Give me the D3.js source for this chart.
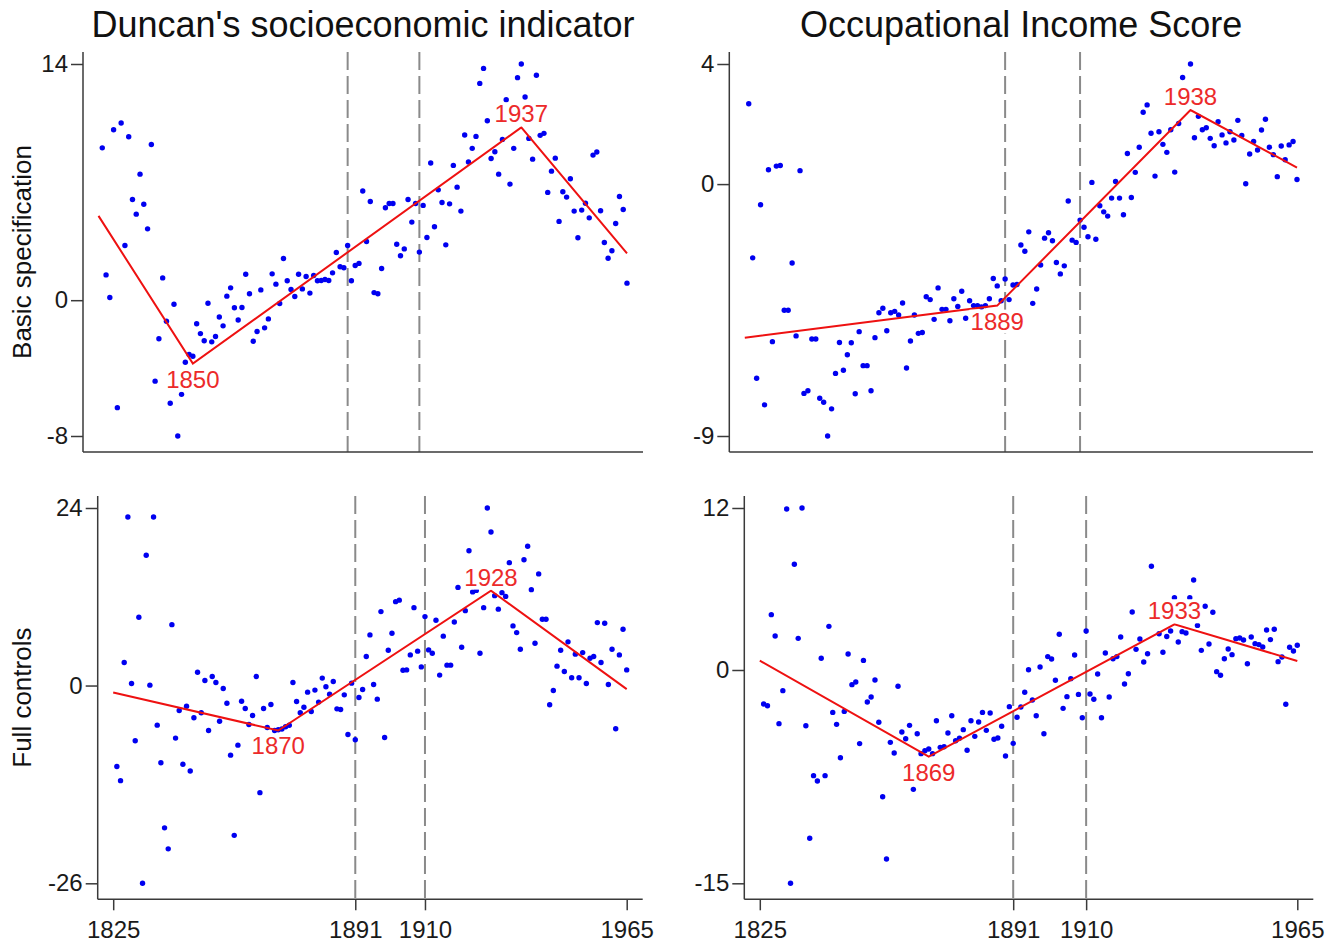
<!DOCTYPE html>
<html>
<head>
<meta charset="utf-8">
<script src="https://cdn.jsdelivr.net/npm/d3@7"></script>
<style>
  body { margin: 0; background: #fff; }
  svg text { font-family: "Liberation Sans", Arial, sans-serif; }
</style>
</head>
<body>
<svg id="chart" width="1341" height="948"></svg>
<script>
// one point per year, 1826..1965
var years = d3.range(1826, 1966);

var duncanBasic = [
  9.03, 1.50, 0.16, 10.1, -6.37, 10.5, 3.24, 9.69, 5.97, 5.10,
  7.47, 5.69, 4.23, 9.23, -4.80, -2.29, 1.32, -1.25, -6.11, -0.24,
  -8.05, -5.58, -3.68, -3.22, -3.32, -1.40, -1.98, -2.4, -0.18, -2.47,
  -2.15, -1.0, -1.52, 0.24, 0.73, -0.45, -1.17, -0.43, 1.54, 0.38,
  -2.43, -1.86, 0.61, -1.64, -1.11, 1.56, 0.95, -0.2, 2.47, 1.15,
  0.63, 0.22, 1.54, 0.67, 1.40, 0.42, 1.46, 1.15, 1.17, 1.23,
  1.17, 1.62, 2.83, 1.98, 1.92, 3.24, 1.15, 2.06, 2.18, 6.47,
  3.48, 5.85, 0.45, 0.38, 1.88, 5.48, 5.73, 5.73, 3.32, 2.63,
  3.04, 5.97, 4.63, 5.73, 2.85, 5.62, 3.72, 8.13, 4.35, 6.54,
  5.79, 3.28, 5.71, 7.99, 6.70, 5.28, 9.79, 8.19, 9.00, 9.71,
  12.85, 13.74, 10.64, 8.40, 8.80, 7.47, 9.53, 11.88, 6.88, 9.00,
  13.19, 14.0, 12.04, 9.59, 8.36, 13.33, 9.77, 9.89, 6.39, 7.65,
  8.42, 4.67, 6.43, 6.11, 7.20, 5.28, 3.70, 5.34, 5.75, 4.88,
  8.60, 8.78, 5.30, 3.42, 2.49, 2.93, 4.55, 6.15, 5.38, 1.01
];

var oisBasic = [
  2.81, -2.58, -6.79, -0.72, -7.72, 0.50, -5.51, 0.63, 0.65, -4.41,
  -4.41, -2.76, -5.31, 0.47, -7.32, -7.23, -5.42, -5.42, -7.49, -7.63,
  -8.81, -7.86, -6.62, -5.54, -6.51, -5.97, -5.55, -7.33, -5.16, -6.35,
  -6.35, -7.23, -5.37, -4.50, -4.34, -5.13, -4.50, -4.45, -4.58, -4.16,
  -6.43, -5.49, -4.58, -5.22, -5.19, -3.94, -4.04, -4.73, -3.63, -4.38,
  -4.38, -4.78, -4.01, -4.28, -3.75, -4.69, -4.08, -4.25, -4.25, -4.3,
  -4.25, -4.01, -3.30, -3.56, -4.08, -3.32, -4.04, -3.53, -3.51, -2.13,
  -2.35, -1.67, -4.17, -3.67, -2.83, -1.89, -1.70, -1.98, -2.74, -3.14,
  -2.86, -0.59, -1.96, -2.04, -1.26, -1.51, -1.84, 0.06, -1.93, -0.76,
  -0.97, -1.12, -0.49, 0.09, -0.49, -1.07, 1.07, -0.47, 0.41, 1.29,
  2.51, 2.77, 1.78, 0.28, 1.83, 1.39, 1.11, 1.9, 0.42, 2.12,
  3.73, 2.9, 4.20, 1.62, 2.37, 1.9, 1.97, 1.6, 1.34, 2.18,
  1.72, 1.44, 1.83, 1.54, 2.23, 1.70, 0.01, 1.05, 1.49, 1.19,
  1.89, 2.27, 1.29, 1.03, 0.26, 1.33, 0.85, 1.37, 1.49, 0.16
];

var duncanFull = [
  -10.8, -12.7, 3.07, 22.5, 0.27, -7.37, 9.11, -26.4, 17.4, 0.05,
  22.5, -5.29, -10.3, -19.0, -21.8, 8.13, -7.02, -3.33, -10.5, -2.76,
  -11.4, -4.31, 1.78, -3.64, 0.67, -6.0, 1.2, 0.4, -4.76, -0.4,
  -2.36, -9.29, -20.0, -7.96, -2.09, -3.07, -5.2, -4.0, 1.2, -14.3,
  -3.07, -5.6, -2.53, -6.0, -5.9, -5.8, -5.5, -5.3, 0.4, -2.13,
  -3.64, -2.89, -0.88, -3.47, -0.61, -2.21, 0.99, -0.17, -1.15, 0.53,
  -3.11, -3.2, -1.24, -6.53, 0.32, -7.24, -1.6, -0.53, 3.87, 6.76,
  0.13, -1.82, 9.87, -6.93, 4.71, 6.98, 11.2, 11.4, 2.05, 2.09,
  4.09, 10.4, 4.59, 2.49, 9.2, 4.76, 4.32, 8.72, 1.39, 6.59,
  2.72, 2.72, 8.49, 13.1, 5.12, 10.0, 18.0, 12.5, 12.7, 4.32,
  10.4, 23.7, 20.5, 12.0, 10.2, 12.4, 11.9, 16.4, 7.96, 7.07,
  4.85, 16.8, 18.6, 12.8, 5.65, 14.9, 8.85, 8.85, -2.57, -0.67,
  2.59, 4.72, 1.87, 5.83, 1.03, 4.19, 1.03, 4.4, 0.27, 3.65,
  3.87, 8.4, 3.07, 8.32, 0.13, 4.85, -5.77, 4.09, 7.52, 2.09
];

var oisFull = [
  -2.44, -2.56, 3.97, 2.44, -3.85, -1.48, 11.55, -15.3, 7.58, 2.27,
  11.62, -4.0, -12.07, -7.58, -7.96, 0.84, -7.58, 3.13, -3.04, -3.9,
  -6.29, -2.97, 1.15, -1.05, -0.86, -5.28, 0.69, -2.30, -1.94, -0.72,
  -3.75, -9.09, -13.56, -5.19, -5.95, -1.17, -4.45, -4.93, -3.97, -8.56,
  -4.57, -6.0, -5.79, -5.67, -6.0, -3.64, -5.55, -5.5, -4.52, -3.28,
  -5.07, -4.9, -4.28, -5.76, -3.64, -4.76, -3.73, -3.04, -4.33, -3.08,
  -4.97, -4.88, -4.04, -6.17, -2.63, -5.26, -3.39, -2.65, -1.60, 0.02,
  -2.15, -3.28, 0.22, -4.57, 0.96, 0.79, -0.74, 2.56, -2.75, -1.91,
  -0.62, 1.08, -1.75, -3.42, 2.80, -1.72, -2.10, -0.29, -3.42, 1.22,
  -1.94, 0.81, 0.96, 2.37, -1.00, -0.27, 4.16, 1.48, 2.22, 0.57,
  1.17, 7.44, 3.7, 2.6, 1.27, 2.4, 2.8, 5.19, 2.01, 2.75,
  2.65, 5.19, 6.46, 3.2, 1.41, 4.57, 1.87, 4.14, -0.12, -0.38,
  0.81, 1.51, 1.10, 2.25, 2.30, 2.15, 0.45, 2.37, 1.89, 1.82,
  1.65, 2.87, 2.18, 2.92, 0.60, 0.93, -2.46, 1.63, 1.36, 1.77
];

// piecewise fits: break years and fitted values at them
var duncanBasicBreaks = [1825, 1850, 1937, 1965];
var duncanBasicFit    = [5.0, -3.76, 10.24, 2.77];
var oisBasicBreaks    = [1825, 1889, 1938, 1965];
var oisBasicFit       = [-5.37, -4.25, 2.59, 0.58];
var duncanFullBreaks  = [1825, 1870, 1928, 1965];
var duncanFullFit     = [-0.93, -6.0, 12.67, -0.48];
var oisFullBreaks     = [1825, 1869, 1933, 1965];
var oisFullFit        = [0.67, -6.22, 3.28, 0.65];

var xTicks = [1825, 1891, 1910, 1965];
var refYears = [1891, 1910];
var colTitles = ["Duncan's socioeconomic indicator", "Occupational Income Score"];
var rowTitles = ["Basic specification", "Full controls"];

var svg = d3.select('#chart');

// plot regions (left = y axis line), taken from the stata combine layout
var panels = [
  {vals: duncanBasic, bx: duncanBasicBreaks, fit: duncanBasicFit, left: 83,    right: 643,    top: 52,  bottom: 452,   row: 0, col: 0},
  {vals: oisBasic,    bx: oisBasicBreaks,    fit: oisBasicFit,    left: 729.3, right: 1313,   top: 52,  bottom: 452,   row: 0, col: 1},
  {vals: duncanFull,  bx: duncanFullBreaks,  fit: duncanFullFit,  left: 97.7,  right: 642.7,  top: 496, bottom: 899.3, row: 1, col: 0},
  {vals: oisFull,     bx: oisFullBreaks,     fit: oisFullFit,     left: 744.3, right: 1313.3, top: 496, bottom: 899.3, row: 1, col: 1}
];

var axisCol = '#3a3a3a';

function drawPanel(p) {
  var g = svg.append('g');
  var x = d3.scaleLinear().domain([1825, 1965]).range([p.left + 15.5, p.right - 16]);
  var lo = d3.min(p.vals), hi = d3.max(p.vals);
  // stata min/max labelling: ticks sit on the extreme points
  var y = d3.scaleLinear().domain([lo, hi]).range([p.bottom - 16, p.top + 12]);

  g.selectAll('line.ref').data(refYears).enter().append('line')
    .attr('class', 'ref')
    .attr('x1', function(d) { return x(d); }).attr('x2', function(d) { return x(d); })
    .attr('y1', p.top).attr('y2', p.bottom)
    .style('stroke', '#8a8a8a').style('stroke-width', 2)
    .style('stroke-dasharray', '18,6');

  g.selectAll('circle').data(p.vals).enter().append('circle')
    .attr('cx', function(d, i) { return x(years[i]); })
    .attr('cy', function(d) { return y(d); })
    .attr('r', 2.7)
    .style('fill', '#0000f0');

  var pts = p.bx.map(function(b, i) { return [b, p.fit[i]]; });
  g.append('path').datum(pts)
    .attr('d', d3.line().x(function(d) { return x(d[0]); }).y(function(d) { return y(d[1]); }))
    .style('fill', 'none').style('stroke', '#ee1111').style('stroke-width', 2);

  // break labels: first kink below, second above
  [1, 2].forEach(function(k) {
    var kx = x(p.bx[k]), ky = y(p.fit[k]);
    var lab = g.append('g');
    var t = lab.append('text')
      .attr('x', kx).attr('y', k == 1 ? ky + 24 : ky - 5)
      .attr('text-anchor', 'middle').attr('font-size', 24)
      .style('fill', '#ec2a2a')
      .text(p.bx[k]);
    var bb = t.node().getBBox();
    lab.insert('rect', 'text')
      .attr('x', bb.x - 1).attr('y', bb.y + 2).attr('width', bb.width + 2).attr('height', bb.height - 3)
      .style('fill', '#fff');
  });

  // y axis
  var ya = g.append('g').attr('transform', 'translate(' + p.left + ',0)')
    .call(d3.axisLeft(y).tickValues([lo, 0, hi])
      .tickFormat(function(d) { return String(Math.round(d)); })
      .tickSize(12).tickSizeOuter(0).tickPadding(3));
  ya.select('.domain').remove();
  ya.selectAll('.tick line').style('stroke', axisCol).style('stroke-width', 1.5);
  ya.selectAll('.tick text').attr('font-size', 24).attr('font-family', null).style('fill', '#1a1a1a');
  g.append('line').attr('x1', p.left).attr('x2', p.left).attr('y1', p.top).attr('y2', p.bottom)
    .style('stroke', axisCol).style('stroke-width', 1.5);

  // x axis, ticks only on the bottom row
  if (p.row == 1) {
    var xa = g.append('g').attr('transform', 'translate(0,' + p.bottom + ')')
      .call(d3.axisBottom(x).tickValues(xTicks).tickFormat(d3.format('d'))
        .tickSize(11).tickSizeOuter(0).tickPadding(11));
    xa.select('.domain').remove();
    xa.selectAll('.tick line').style('stroke', axisCol).style('stroke-width', 1.5);
    xa.selectAll('.tick text').attr('font-size', 24).attr('font-family', null).style('fill', '#1a1a1a');
  }
  g.append('line').attr('x1', p.left).attr('x2', p.right).attr('y1', p.bottom).attr('y2', p.bottom)
    .style('stroke', axisCol).style('stroke-width', 1.5);

  if (p.row == 0) {
    g.append('text').attr('x', (p.left + p.right) / 2).attr('y', 37)
      .attr('text-anchor', 'middle').attr('font-size', 36).style('fill', '#111')
      .text(colTitles[p.col]);
  }
  if (p.col == 0) {
    g.append('text')
      .attr('transform', 'translate(22,' + ((p.top + p.bottom) / 2) + ') rotate(-90)')
      .attr('text-anchor', 'middle').attr('dy', '0.36em').attr('font-size', 26).style('fill', '#111')
      .text(rowTitles[p.row]);
  }
}

panels.forEach(drawPanel);
</script>
</body>
</html>
